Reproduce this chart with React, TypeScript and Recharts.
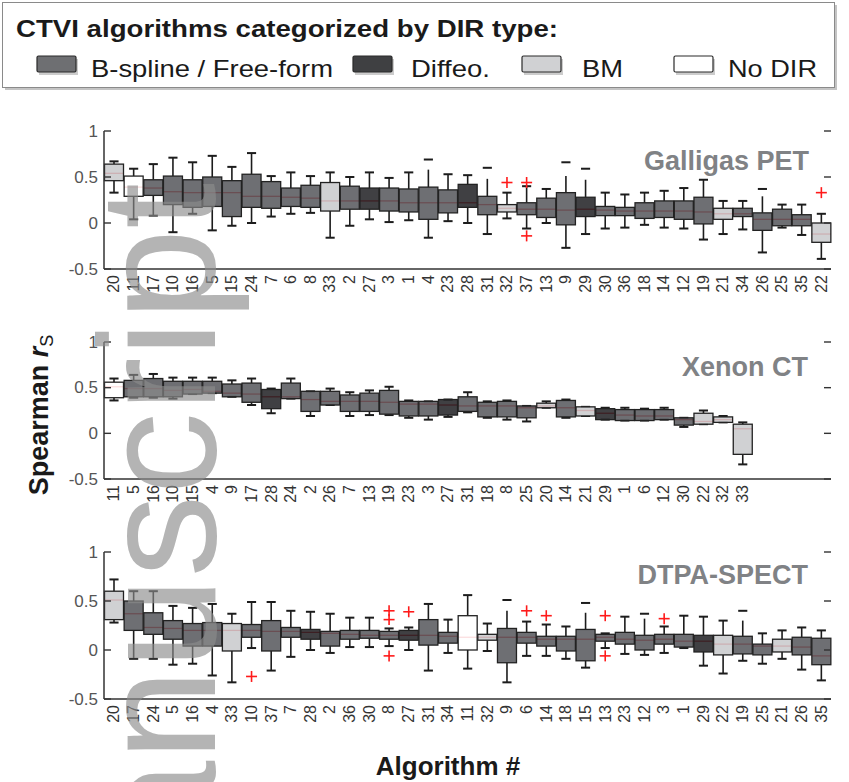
import React from 'react';
import { ComposedChart, Bar, XAxis, YAxis } from 'recharts';

const FONT = "'Liberation Sans', Arial, Helvetica, sans-serif";

// ---------- categories / DIR types ----------
const diffeoIds = ['27', '28', '29'];
const bmIds = ['20', '33', '32', '21', '22'];
const noDirIds = ['11'];
const legendLabels = ['B-spline / Free-form', 'Diffeo.', 'BM', 'No DIR'];
const panelTitles = ['Galligas PET', 'Xenon CT', 'DTPA-SPECT'];
const yTicks = [-0.5, 0, 0.5, 1];

// ---------- Galligas PET: [whiskerLow, q1, median, q3, whiskerHigh] ----------
const galligasIds = ['20', '11', '17', '10', '16', '5', '15', '24', '7', '6', '8', '33', '2', '27', '3', '1', '4', '23', '28', '31', '32', '37', '13', '9', '29', '30', '36', '18', '14', '12', '19', '21', '34', '26', '25', '35', '22'];
const galligasStats = [
  [0.33, 0.46, 0.54, 0.64, 0.67],
  [0.04, 0.29, 0.39, 0.51, 0.59],
  [0.08, 0.30, 0.38, 0.47, 0.64],
  [-0.10, 0.20, 0.34, 0.51, 0.71],
  [0.10, 0.17, 0.33, 0.47, 0.66],
  [-0.08, 0.18, 0.33, 0.50, 0.73],
  [-0.03, 0.07, 0.33, 0.46, 0.61],
  [0.00, 0.17, 0.29, 0.53, 0.76],
  [0.07, 0.16, 0.29, 0.45, 0.51],
  [0.10, 0.18, 0.28, 0.38, 0.55],
  [0.11, 0.17, 0.27, 0.41, 0.51],
  [-0.16, 0.13, 0.24, 0.44, 0.55],
  [-0.03, 0.15, 0.24, 0.40, 0.50],
  [0.04, 0.15, 0.24, 0.38, 0.55],
  [0.01, 0.13, 0.24, 0.38, 0.49],
  [0.03, 0.12, 0.22, 0.37, 0.55],
  [-0.16, 0.04, 0.22, 0.39, 0.58],
  [0.02, 0.11, 0.22, 0.36, 0.53],
  [0.00, 0.17, 0.22, 0.42, 0.52],
  [-0.12, 0.09, 0.20, 0.29, 0.48],
  [0.05, 0.12, 0.16, 0.20, 0.33],
  [-0.06, 0.09, 0.15, 0.22, 0.40],
  [0.00, 0.06, 0.15, 0.27, 0.37],
  [-0.27, -0.02, 0.14, 0.33, 0.51],
  [-0.12, 0.07, 0.15, 0.28, 0.47],
  [-0.06, 0.08, 0.14, 0.18, 0.33],
  [-0.05, 0.08, 0.13, 0.17, 0.31],
  [-0.02, 0.05, 0.13, 0.22, 0.33],
  [-0.05, 0.06, 0.13, 0.24, 0.35],
  [-0.06, 0.04, 0.13, 0.24, 0.38],
  [-0.18, -0.01, 0.12, 0.28, 0.47],
  [-0.12, 0.04, 0.10, 0.16, 0.24],
  [-0.07, 0.07, 0.10, 0.16, 0.24],
  [-0.32, -0.08, 0.04, 0.11, 0.29],
  [-0.05, -0.03, 0.04, 0.15, 0.20],
  [-0.13, -0.03, 0.04, 0.09, 0.20],
  [-0.39, -0.21, -0.12, 0.00, 0.10],
];
const galligasOutliers = [
  { id: '32', v: 0.44 },
  { id: '37', v: 0.44 },
  { id: '37', v: -0.14 },
  { id: '22', v: 0.33 },
];
const galligasCaps = [
  { id: '4', v: 0.69 },
  { id: '31', v: 0.60 },
  { id: '9', v: 0.66 },
  { id: '29', v: 0.59 },
  { id: '26', v: 0.37 },
];

// ---------- Xenon CT ----------
const xenonIds = ['11', '5', '16', '10', '15', '4', '9', '17', '28', '24', '2', '26', '7', '13', '19', '23', '3', '27', '31', '18', '8', '25', '20', '14', '21', '29', '1', '6', '12', '30', '22', '32', '33'];
const xenonStats = [
  [0.36, 0.39, 0.51, 0.56, 0.60],
  [0.39, 0.40, 0.49, 0.58, 0.64],
  [0.39, 0.40, 0.49, 0.60, 0.65],
  [0.38, 0.40, 0.47, 0.57, 0.61],
  [0.43, 0.43, 0.48, 0.57, 0.61],
  [0.44, 0.44, 0.46, 0.57, 0.61],
  [0.40, 0.40, 0.44, 0.54, 0.58],
  [0.31, 0.34, 0.43, 0.55, 0.60],
  [0.22, 0.27, 0.40, 0.48, 0.49],
  [0.38, 0.38, 0.40, 0.55, 0.60],
  [0.19, 0.24, 0.37, 0.46, 0.46],
  [0.31, 0.31, 0.35, 0.46, 0.49],
  [0.19, 0.24, 0.35, 0.42, 0.45],
  [0.20, 0.24, 0.35, 0.44, 0.47],
  [0.20, 0.21, 0.34, 0.47, 0.51],
  [0.17, 0.19, 0.32, 0.35, 0.36],
  [0.15, 0.19, 0.32, 0.35, 0.35],
  [0.18, 0.20, 0.31, 0.37, 0.37],
  [0.23, 0.24, 0.30, 0.40, 0.45],
  [0.17, 0.18, 0.30, 0.34, 0.35],
  [0.15, 0.18, 0.30, 0.35, 0.36],
  [0.13, 0.17, 0.28, 0.30, 0.30],
  [0.28, 0.28, 0.30, 0.33, 0.35],
  [0.17, 0.18, 0.28, 0.36, 0.37],
  [0.19, 0.19, 0.25, 0.29, 0.29],
  [0.15, 0.15, 0.22, 0.27, 0.28],
  [0.14, 0.14, 0.20, 0.26, 0.28],
  [0.14, 0.14, 0.19, 0.26, 0.27],
  [0.15, 0.15, 0.19, 0.26, 0.28],
  [0.07, 0.09, 0.15, 0.17, 0.17],
  [0.10, 0.10, 0.13, 0.22, 0.25],
  [0.12, 0.12, 0.15, 0.18, 0.19],
  [-0.34, -0.23, 0.05, 0.10, 0.12],
];
const xenonOutliers: { id: string; v: number }[] = [];
const xenonCaps: { id: string; v: number }[] = [];

// ---------- DTPA-SPECT ----------
const dtpaIds = ['20', '17', '24', '5', '16', '4', '33', '10', '37', '7', '28', '2', '36', '30', '8', '27', '31', '34', '11', '32', '9', '6', '14', '18', '15', '13', '23', '12', '3', '1', '29', '22', '19', '25', '21', '26', '35'];
const dtpaStats = [
  [0.28, 0.31, 0.51, 0.60, 0.72],
  [-0.09, 0.20, 0.37, 0.50, 0.60],
  [-0.09, 0.16, 0.23, 0.38, 0.60],
  [-0.15, 0.11, 0.22, 0.30, 0.45],
  [-0.14, 0.04, 0.20, 0.27, 0.43],
  [-0.26, 0.04, 0.20, 0.28, 0.47],
  [-0.33, -0.01, 0.20, 0.27, 0.37],
  [0.02, 0.13, 0.20, 0.26, 0.49],
  [-0.21, -0.01, 0.19, 0.30, 0.49],
  [-0.07, 0.13, 0.19, 0.23, 0.40],
  [0.00, 0.11, 0.18, 0.21, 0.39],
  [-0.03, 0.04, 0.17, 0.19, 0.37],
  [0.03, 0.11, 0.16, 0.20, 0.33],
  [0.03, 0.12, 0.15, 0.20, 0.33],
  [0.04, 0.11, 0.15, 0.19, 0.22],
  [0.00, 0.10, 0.15, 0.20, 0.23],
  [-0.21, 0.05, 0.15, 0.31, 0.47],
  [-0.03, 0.07, 0.14, 0.18, 0.31],
  [-0.19, 0.00, 0.13, 0.35, 0.56],
  [-0.01, 0.10, 0.13, 0.16, 0.27],
  [-0.33, -0.13, 0.13, 0.22, 0.40],
  [-0.06, 0.07, 0.13, 0.18, 0.29],
  [-0.06, 0.04, 0.11, 0.14, 0.26],
  [-0.09, -0.01, 0.11, 0.14, 0.24],
  [-0.18, -0.11, 0.11, 0.21, 0.38],
  [0.02, 0.09, 0.13, 0.16, 0.17],
  [-0.04, 0.06, 0.11, 0.18, 0.34],
  [-0.05, 0.00, 0.10, 0.15, 0.32],
  [-0.03, 0.06, 0.11, 0.16, 0.24],
  [0.02, 0.03, 0.09, 0.16, 0.35],
  [-0.16, -0.02, 0.09, 0.15, 0.34],
  [-0.24, -0.05, 0.06, 0.15, 0.30],
  [-0.11, -0.04, 0.06, 0.14, 0.30],
  [-0.14, -0.05, 0.04, 0.06, 0.17],
  [-0.09, -0.02, 0.04, 0.11, 0.20],
  [-0.20, -0.05, 0.03, 0.13, 0.23],
  [-0.31, -0.15, -0.06, 0.12, 0.20],
];
const dtpaOutliers = [
  { id: '10', v: -0.27 },
  { id: '8', v: 0.40 },
  { id: '8', v: 0.31 },
  { id: '8', v: -0.06 },
  { id: '27', v: 0.39 },
  { id: '6', v: 0.40 },
  { id: '14', v: 0.35 },
  { id: '13', v: 0.35 },
  { id: '13', v: -0.06 },
  { id: '3', v: 0.32 },
];
const dtpaCaps = [
  { id: '9', v: 0.51 },
  { id: '15', v: 0.48 },
  { id: '12', v: 0.37 },
  { id: '19', v: 0.40 },
];

// ---------- styling ----------
const SLOTS = 37;
const PLOT_LEFT = 104;
const PLOT_RIGHT_MARGIN = 18;
const PLOT_W = 849 - PLOT_LEFT - PLOT_RIGHT_MARGIN;
const typeFill: Record<string, string> = {
  bspline: '#55565a',
  diffeo: '#1e1f22',
  bm: '#c8c9cb',
  nodir: '#ffffff',
};
const legendSwatch = ['#6e6f72', '#3f4042', '#d0d1d3', '#ffffff'];

function typeOf(id: string) {
  if (diffeoIds.includes(id)) return 'diffeo';
  if (bmIds.includes(id)) return 'bm';
  if (noDirIds.includes(id)) return 'nodir';
  return 'bspline';
}

function buildRows(ids: string[], stats: number[][], outliers: { id: string; v: number }[], caps: { id: string; v: number }[]) {
  const rows: any[] = [];
  for (let i = 0; i < SLOTS; i++) {
    const id = ids[i];
    if (id === undefined) {
      rows.push({ slot: 's' + i, label: '', stats: null, outs: [], cap: null, type: 'bspline' });
    } else {
      const c = caps.find((k) => k.id === id);
      rows.push({
        slot: 's' + i,
        label: id,
        stats: stats[i],
        outs: outliers.filter((o) => o.id === id).map((o) => o.v),
        cap: c ? c.v : null,
        type: typeOf(id),
      });
    }
  }
  return rows;
}

const rangeKey = (d: any) => (d.stats ? [d.stats[0], d.stats[4]] : null);

const BoxShape = (props: any) => {
  const { x, y, width, height, payload } = props;
  if (!payload || !payload.stats || typeof y !== 'number') return <g />;
  const [lo, q1, med, q3, hi] = payload.stats;
  const top = Math.min(y, y + height);
  const h = Math.abs(height);
  const py = (v: number) => top + ((hi - v) / (hi - lo)) * h;
  const cx = x + width / 2;
  const cw = width * 0.24;
  const capY = payload.cap != null ? payload.cap : hi;
  const ink = '#1c1c1c';
  return (
    <g>
      <line x1={cx} x2={cx} y1={py(q1)} y2={py(lo)} stroke={ink} strokeWidth={1.6} />
      <line x1={cx} x2={cx} y1={py(q3)} y2={py(hi)} stroke={ink} strokeWidth={1.6} />
      <line x1={cx - cw} x2={cx + cw} y1={py(lo)} y2={py(lo)} stroke={ink} strokeWidth={2} />
      <line x1={cx - cw} x2={cx + cw} y1={py(capY)} y2={py(capY)} stroke={ink} strokeWidth={2} />
      <line x1={x} x2={x + width} y1={py(med)} y2={py(med)} stroke="#e3262b" strokeWidth={1.3} />
      <rect
        x={x}
        y={py(q3)}
        width={width}
        height={Math.max(py(q1) - py(q3), 0.5)}
        fill={typeFill[payload.type]}
        fillOpacity={0.85}
        stroke="#222"
        strokeWidth={1.3}
      />
      {payload.outs.map((v: number, i: number) => (
        <g key={i} stroke="#ff1a1a" strokeWidth={1.6}>
          <line x1={cx - 5.5} x2={cx + 5.5} y1={py(v)} y2={py(v)} />
          <line x1={cx} x2={cx} y1={py(v) - 5.5} y2={py(v) + 5.5} />
        </g>
      ))}
    </g>
  );
};

const fmtY = (v: number) => String(v);

const YTick = (p: any) => {
  const { x, y, payload } = p;
  return (
    <g>
      <text x={x - 6} y={y} textAnchor="end" dominantBaseline="central" fontSize={17} fill="#555" fontFamily={FONT}>
        {fmtY(payload.value)}
      </text>
      <line x1={x} x2={x + 7} y1={y} y2={y} stroke="#333" strokeWidth={1.4} />
      <line x1={x + PLOT_W - 7} x2={x + PLOT_W} y1={y} y2={y} stroke="#333" strokeWidth={1.4} />
    </g>
  );
};

function Panel({ rows, top, plotH }: { rows: any[]; top: number; plotH: number }) {
  const mt = 10;
  const bottomH = 40;
  const XTick = (p: any) => {
    const { x, y, index } = p;
    const row = rows[index];
    const label = row ? row.label : '';
    return (
      <text
        transform={`translate(${x + 5.5},${y + 6}) rotate(-90)`}
        textAnchor="end"
        fontSize={16}
        fill="#333"
        fontFamily={FONT}
      >
        {label}
      </text>
    );
  };
  const axisLine = { stroke: '#333', strokeWidth: 1.5 };
  return (
    <div style={{ position: 'absolute', left: 0, top }}>
      <ComposedChart
        width={849}
        height={mt + plotH + bottomH}
        data={rows}
        margin={{ top: mt, right: PLOT_RIGHT_MARGIN, bottom: 0, left: 0 }}
        barCategoryGap={0.5}
      >
        <XAxis
          xAxisId="b"
          dataKey="slot"
          type="category"
          interval={0}
          height={bottomH}
          tickLine={false}
          tickSize={0}
          tickMargin={0}
          axisLine={axisLine}
          tick={(p: any) => <XTick {...p} />}
        />
        <XAxis xAxisId="t" dataKey="slot" orientation="top" height={0} tick={false} tickLine={false} axisLine={axisLine} />
        <YAxis
          yAxisId="l"
          type="number"
          domain={[-0.5, 1]}
          ticks={yTicks}
          allowDataOverflow
          width={PLOT_LEFT}
          tickLine={false}
          tickSize={0}
          tickMargin={0}
          axisLine={axisLine}
          tick={(p: any) => <YTick {...p} />}
        />
        <YAxis yAxisId="r" orientation="right" type="number" domain={[-0.5, 1]} allowDataOverflow width={0} tick={false} tickLine={false} axisLine={axisLine} />
        <Bar xAxisId="b" yAxisId="l" dataKey={rangeKey} shape={(p: any) => <BoxShape {...p} />} isAnimationActive={false} />
      </ComposedChart>
    </div>
  );
}

const galligasRows = buildRows(galligasIds, galligasStats, galligasOutliers, galligasCaps);
const xenonRows = buildRows(xenonIds, xenonStats, xenonOutliers, xenonCaps);
const dtpaRows = buildRows(dtpaIds, dtpaStats, dtpaOutliers, dtpaCaps);

const legendLayout = [
  { sx: 37, tx: 91, tw: 242 },
  { sx: 353, tx: 411, tw: 79 },
  { sx: 522, tx: 582, tw: 41 },
  { sx: 674, tx: 728, tw: 89 },
];

export default function App() {
  return (
    <div style={{ position: 'absolute', left: 0, top: 0, width: 849, height: 782, background: '#fff', overflow: 'hidden' }}>
      <Panel rows={galligasRows} top={121} plotH={138} />
      <Panel rows={xenonRows} top={332} plotH={137} />
      <Panel rows={dtpaRows} top={542} plotH={147} />
      <svg width={849} height={782} style={{ position: 'absolute', left: 0, top: 0, pointerEvents: 'none' }} fontFamily={FONT}>
        {/* legend */}
        <rect x={5} y={5} width={832} height={85} fill="#c4c4c4" />
        <rect x={2.5} y={2.5} width={832} height={85} fill="#fff" stroke="#8a8a8a" strokeWidth={1} />
        <text x={16} y={37} fontSize={23} fontWeight="bold" fill="#1a1a1a" textLength={542} lengthAdjust="spacingAndGlyphs">
          CTVI algorithms categorized by DIR type:
        </text>
        {legendLabels.map((lab, i) => (
          <g key={lab}>
            <rect x={legendLayout[i].sx + 2} y={59} width={39} height={16} fill="#999" opacity={0.5} />
            <rect x={legendLayout[i].sx} y={56} width={39} height={16} rx={1.5} fill={legendSwatch[i]} stroke="#2a2a2a" strokeWidth={1.2} />
            <text x={legendLayout[i].tx} y={77} fontSize={24} fill="#1a1a1a" textLength={legendLayout[i].tw} lengthAdjust="spacingAndGlyphs">
              {lab}
            </text>
          </g>
        ))}
        {/* panel titles */}
        <text x={809} y={170} textAnchor="end" fontSize={27} fontWeight="bold" fill="#808285">{panelTitles[0]}</text>
        <text x={808} y={376} textAnchor="end" fontSize={27} fontWeight="bold" fill="#808285">{panelTitles[1]}</text>
        <text x={808} y={584} textAnchor="end" fontSize={27} fontWeight="bold" fill="#808285">{panelTitles[2]}</text>
        {/* axis titles */}
        <text transform="translate(48,415) rotate(-90)" textAnchor="middle" fontSize={27} fontWeight="bold" fill="#1a1a1a">
          Spearman <tspan fontStyle="italic">r</tspan>
          <tspan fontSize={18} fontWeight="normal" dy={5}>S</tspan>
        </text>
        <text x={448} y={775} textAnchor="middle" fontSize={26} fontWeight="bold" fill="#1a1a1a">Algorithm #</text>
        {/* watermark */}
        <text transform="translate(215,183) rotate(-90)" textAnchor="end" fontSize={165} fill="#8c8c8c" fillOpacity={0.65}>
          manuscript
        </text>
      </svg>
    </div>
  );
}
